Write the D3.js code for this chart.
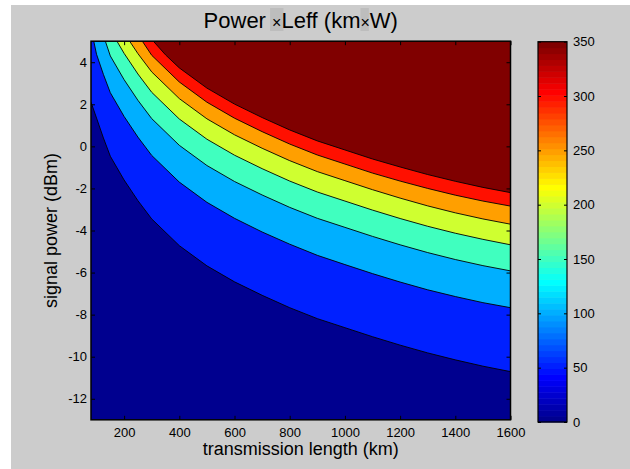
<!DOCTYPE html>
<html>
<head>
<meta charset="utf-8">
<script src="https://cdn.jsdelivr.net/npm/d3@7"></script>
<style>
  body { margin: 0; background: #fff; }
  svg { display: block; }
  text { font-family: "Liberation Sans", Arial, Helvetica, sans-serif; fill: #000; }
</style>
</head>
<body>
<svg id="chart" width="630" height="469"></svg>
<script>
// Filled-contour levels of Power x Leff (km·W)
const levels = [0, 50, 100, 150, 200, 250, 300, 350];
const colorMax = 350;

// Contour lines: [transmission length (km), signal power (dBm)]
const contour50 = [[80,2.1],[100,1.35],[125,0.4],[150,-0.47],[200,-1.6],[250,-2.58],[300,-3.45],[400,-4.72],[500,-5.68],[600,-6.44],[700,-7.08],[800,-7.67],[900,-8.19],[1000,-8.62],[1100,-9.05],[1200,-9.45],[1300,-9.82],[1400,-10.15],[1500,-10.45],[1600,-10.71]];
const contour100 = [[90,5],[100,4.38],[125,3.42],[150,2.55],[200,1.42],[250,0.44],[300,-0.43],[400,-1.7],[500,-2.66],[600,-3.42],[700,-4.07],[800,-4.65],[900,-5.18],[1000,-5.62],[1100,-6.05],[1200,-6.45],[1300,-6.82],[1400,-7.14],[1500,-7.43],[1600,-7.67]];
const contour150 = [[132,5],[150,4.3],[200,3.17],[250,2.19],[300,1.32],[400,0.05],[500,-0.91],[600,-1.67],[700,-2.31],[800,-2.9],[900,-3.42],[1000,-3.85],[1100,-4.28],[1200,-4.68],[1300,-5.05],[1400,-5.38],[1500,-5.67],[1600,-5.92]];
const contour200 = [[174,5],[200,4.42],[250,3.44],[300,2.57],[400,1.3],[500,0.34],[600,-0.42],[700,-1.06],[800,-1.65],[900,-2.17],[1000,-2.6],[1100,-3.03],[1200,-3.43],[1300,-3.8],[1400,-4.13],[1500,-4.42],[1600,-4.68]];
const contour250 = [[220,5],[250,4.41],[300,3.54],[400,2.27],[500,1.31],[600,0.55],[700,-0.09],[800,-0.68],[900,-1.2],[1000,-1.63],[1100,-2.06],[1200,-2.46],[1300,-2.83],[1400,-3.16],[1500,-3.45],[1600,-3.7]];
const contour300 = [[266,5],[300,4.33],[400,3.06],[500,2.1],[600,1.34],[700,0.7],[800,0.11],[900,-0.41],[1000,-0.84],[1100,-1.27],[1200,-1.65],[1300,-2.0],[1400,-2.32],[1500,-2.6],[1600,-2.84]];
const contour350 = [[306,5],[350,4.35],[400,3.73],[500,2.77],[600,2.01],[700,1.37],[800,0.78],[900,0.26],[1000,-0.17],[1100,-0.6],[1200,-0.98],[1300,-1.34],[1400,-1.66],[1500,-1.95],[1600,-2.2]];

const xTicks = [200, 400, 600, 800, 1000, 1200, 1400, 1600];
const yTicks = [4, 2, 0, -2, -4, -6, -8, -10, -12];
const cbTicks = [0, 50, 100, 150, 200, 250, 300, 350];

const lengthDomain = [80, 1600];
const powerDomain = [-13, 5];

const contours = [
  { level: 50, pts: contour50 },
  { level: 100, pts: contour100 },
  { level: 150, pts: contour150 },
  { level: 200, pts: contour200 },
  { level: 250, pts: contour250 },
  { level: 300, pts: contour300 },
  { level: 350, pts: contour350 }
];

// 64-entry jet colormap (1-based index)
const jetU = [];
for (let k = 1; k <= 16; k++) jetU.push(k / 16);
for (let k = 0; k < 15; k++) jetU.push(1);
for (let k = 16; k >= 1; k--) jetU.push(k / 16);
function jet(j) {
  const g = (j - 8 >= 1 && j - 8 <= 47) ? jetU[j - 9] : 0;
  const r = (j - 24 >= 1 && j - 24 <= 47) ? jetU[j - 25] : 0;
  const b = (j + 8 <= 47) ? jetU[j + 7] : 0;
  return d3.rgb(Math.round(r * 255), Math.round(g * 255), Math.round(b * 255)).formatHex();
}
function levelColor(v) {
  const j = Math.min(64, Math.floor(v / colorMax * 64) + 1);
  return jet(j);
}

const svg = d3.select("#chart");

// figure background
svg.append("rect").attr("x", 11).attr("y", 5).attr("width", 619).attr("height", 464).attr("fill", "#cccccc");

const x = d3.scaleLinear().domain(lengthDomain).range([91, 510.5]);
const y = d3.scaleLinear().domain(powerDomain).range([419.8, 41.2]);

svg.append("defs").append("clipPath").attr("id", "plotClip")
  .append("rect").attr("x", x(lengthDomain[0])).attr("y", y(powerDomain[1]))
  .attr("width", x(lengthDomain[1]) - x(lengthDomain[0]))
  .attr("height", y(powerDomain[0]) - y(powerDomain[1]));

const plot = svg.append("g").attr("clip-path", "url(#plotClip)");

// lowest band fills the whole axes
plot.append("rect")
  .attr("x", x(lengthDomain[0])).attr("y", y(powerDomain[1]))
  .attr("width", x(lengthDomain[1]) - x(lengthDomain[0]))
  .attr("height", y(powerDomain[0]) - y(powerDomain[1]))
  .attr("fill", levelColor(levels[0]));

const line = d3.line().x(d => x(d[0])).y(d => y(d[1]));

// each higher band covers the region above its contour
contours.forEach(c => {
  const poly = c.pts.slice();
  poly.push([lengthDomain[1], powerDomain[1]]);
  if (c.pts[0][1] < powerDomain[1]) poly.push([lengthDomain[0], powerDomain[1]]);
  plot.append("path").attr("d", line(poly) + "Z").attr("fill", levelColor(c.level));
});

contours.forEach(c => {
  plot.append("path").attr("d", line(c.pts))
    .attr("fill", "none").attr("stroke", "#000").attr("stroke-width", 0.9);
});

// axes (plain hyphen-minus on negative labels)
const tickFont = 13;
const fmt = d => String(d);
const gx = svg.append("g").attr("transform", `translate(0,${y(powerDomain[0])})`)
  .call(d3.axisBottom(x).tickValues(xTicks).tickFormat(fmt).tickSizeInner(-4).tickSizeOuter(0).tickPadding(8));
const gy = svg.append("g").attr("transform", `translate(${x(lengthDomain[0])},0)`)
  .call(d3.axisLeft(y).tickValues(yTicks).tickFormat(fmt).tickSizeInner(-4).tickSizeOuter(0).tickPadding(4));
const gxt = svg.append("g").attr("transform", `translate(0,${y(powerDomain[1])})`)
  .call(d3.axisTop(x).tickValues(xTicks).tickSizeInner(-4).tickSizeOuter(0).tickFormat(""));
const gyr = svg.append("g").attr("transform", `translate(${x(lengthDomain[1])},0)`)
  .call(d3.axisRight(y).tickValues(yTicks).tickSizeInner(-4).tickSizeOuter(0).tickFormat(""));
[gx, gy, gxt, gyr].forEach(g => {
  g.select(".domain").remove();
  g.selectAll("line").attr("stroke", "#000").attr("stroke-width", 1);
  g.selectAll("text").attr("font-size", tickFont).attr("font-family", null).attr("fill", "#000");
});

svg.append("rect")
  .attr("x", x(lengthDomain[0])).attr("y", y(powerDomain[1]))
  .attr("width", x(lengthDomain[1]) - x(lengthDomain[0]))
  .attr("height", y(powerDomain[0]) - y(powerDomain[1]))
  .attr("fill", "none").attr("stroke", "#000").attr("stroke-width", 1.5);

// colorbar
const cb = { x: 538, w: 29 };
const cy = d3.scaleLinear().domain([0, colorMax]).range([422, 41.7]);
const cbG = svg.append("g");
d3.range(1, 65).forEach(j => {
  const v0 = (j - 1) / 64 * colorMax, v1 = j / 64 * colorMax;
  cbG.append("rect").attr("x", cb.x).attr("width", cb.w)
    .attr("y", cy(v1)).attr("height", cy(v0) - cy(v1) + 0.5)
    .attr("fill", jet(j));
});
const gcbL = svg.append("g").attr("transform", `translate(${cb.x},0)`)
  .call(d3.axisLeft(cy).tickValues(cbTicks).tickSizeInner(-3).tickSizeOuter(0).tickFormat(""));
const gcbR = svg.append("g").attr("transform", `translate(${cb.x + cb.w},0)`)
  .call(d3.axisRight(cy).tickValues(cbTicks).tickFormat(fmt).tickSizeInner(3).tickSizeOuter(0).tickPadding(3));
gcbR.selectAll("line").attr("x2", -3);
[gcbL, gcbR].forEach(g => {
  g.select(".domain").remove();
  g.selectAll("line").attr("stroke", "#000");
  g.selectAll("text").attr("font-size", tickFont).attr("font-family", null).attr("fill", "#000");
});
svg.append("rect").attr("x", cb.x).attr("y", cy(colorMax)).attr("width", cb.w)
  .attr("height", cy(0) - cy(colorMax)).attr("fill", "none").attr("stroke", "#000").attr("stroke-width", 1.2);

// axis labels
svg.append("text").attr("x", (x(lengthDomain[0]) + x(lengthDomain[1])) / 2).attr("y", 454.5)
  .attr("text-anchor", "middle").attr("font-size", 18).text("transmission length (km)");
svg.append("text").attr("transform", `translate(56.5,${(y(powerDomain[0]) + y(powerDomain[1])) / 2}) rotate(-90)`)
  .attr("text-anchor", "middle").attr("font-size", 18).text("signal power (dBm)");

// title
const titleG = svg.append("g");
const title = titleG.append("text").attr("x", (x(lengthDomain[0]) + x(lengthDomain[1])) / 2).attr("y", 27.5)
  .attr("text-anchor", "middle").attr("font-size", 22);
title.append("tspan").text("Power ");
title.append("tspan").attr("font-size", 16).text("\u00d7");
title.append("tspan").text("Leff (km");
title.append("tspan").attr("font-size", 16).text("\u00d7");
title.append("tspan").text("W)");
const node = title.node();
[6, 15].forEach((idx, i) => {
  const e = node.getExtentOfChar(idx);
  titleG.insert("rect", "text")
    .attr("x", e.x - (i === 0 ? 2 : 0)).attr("y", 8)
    .attr("width", i === 0 ? e.width + 4 : e.width - 1).attr("height", 23)
    .attr("fill", "#bdbdbd");
});
</script>
</body>
</html>
